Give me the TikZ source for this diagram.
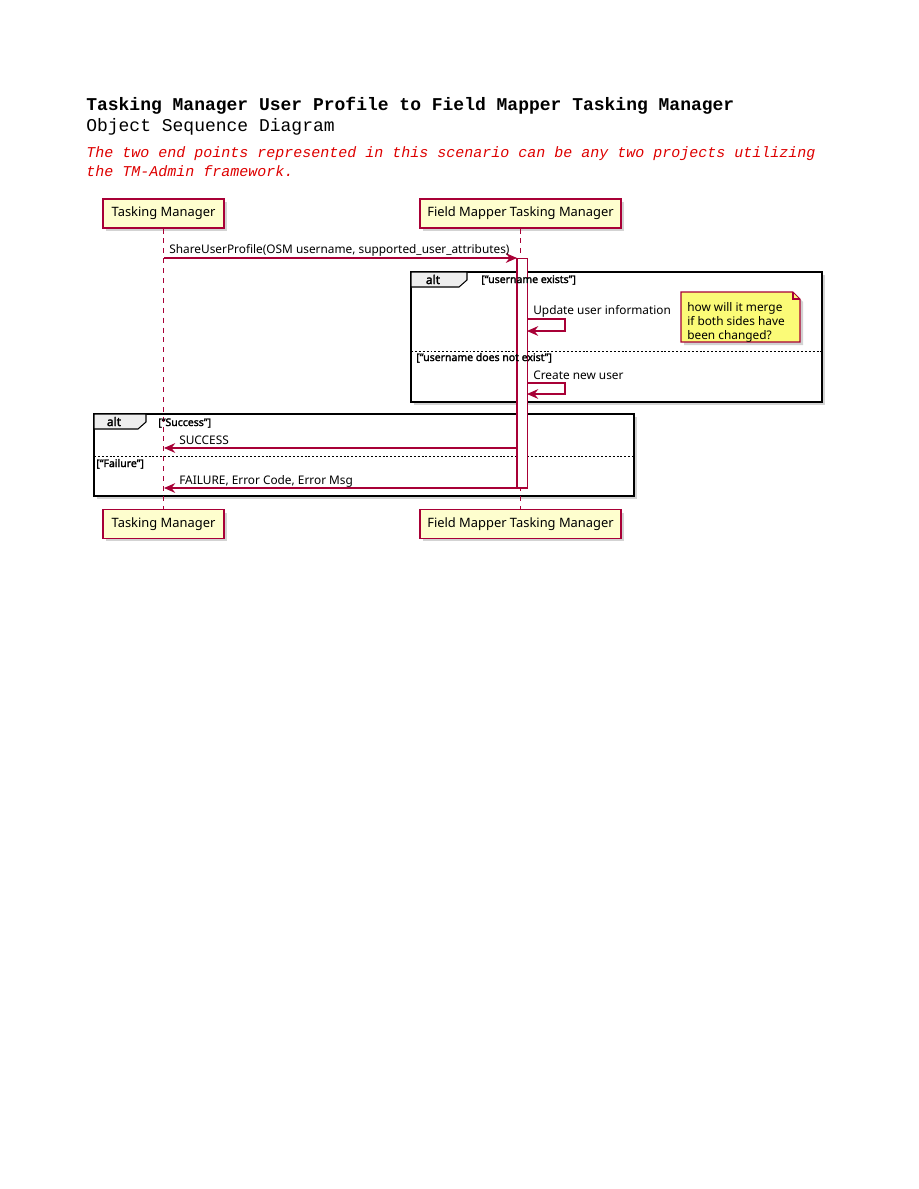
\documentclass[tikz,border=0pt]{standalone}
\usepackage{fontspec}
\setmainfont{Noto Sans}[AutoFakeBold=2.2]
\setmonofont{Liberation Mono}
\usepackage{xcolor}
\usetikzlibrary{arrows.meta}
\usetikzlibrary{shadows}
\usetikzlibrary{positioning}

\definecolor{seqline}{HTML}{A80036}
\definecolor{partfill}{HTML}{FEFECE}
\definecolor{notefill}{HTML}{FBFB77}
\definecolor{tabfill}{HTML}{EEEEEE}
\definecolor{commentred}{HTML}{DD0000}

\tikzset{
  participant/.style={draw=seqline, fill=partfill, line width=0.8pt, minimum height=19.3pt,
    inner sep=0pt, font=\fontsize{8.6}{10}\selectfont,
    drop shadow={shadow xshift=2pt, shadow yshift=-2pt, opacity=0.35}},
  lifeline/.style={draw=seqline, line width=0.6pt, dash pattern=on 3.3pt off 3.3pt},
  activation/.style={draw=seqline, fill=white, line width=0.7pt, minimum width=6.7pt, inner sep=0pt},
  msg/.style={draw=seqline, line width=0.7pt, -{Stealth[length=7.5pt, width=6.5pt, inset=2.5pt]}},
  msgtext/.style={anchor=base west, inner sep=0pt, font=\fontsize{7.9}{10}\selectfont},
  frame/.style={draw=black, line width=1.4pt,
    drop shadow={shadow xshift=2pt, shadow yshift=-2pt, opacity=0.35}},
  divider/.style={draw=black, line width=0.5pt, dash pattern=on 1.3pt off 1.3pt},
  guard/.style={anchor=base west, inner sep=0pt, font=\fontsize{7}{8}\selectfont\bfseries},
  altlabel/.style={anchor=base, inner sep=0pt, font=\fontsize{8}{10}\selectfont\bfseries},
  notetext/.style={anchor=north west, inner sep=0pt, align=left, font=\fontsize{7.9}{9.3}\selectfont}
}

\begin{document}
\begin{tikzpicture}[x=0.6667pt, y=-0.6667pt]
  \useasboundingbox (0,0) rectangle (919,1189);%

  % Heading
  \node [anchor=base west, inner sep=0pt, font=\ttfamily\bfseries\fontsize{12}{14}\selectfont] (title) at (86,110) {Tasking Manager User Profile to Field Mapper Tasking Manager};%
  \node [anchor=base west, inner sep=0pt, font=\ttfamily\fontsize{12}{14}\selectfont] (subtitle) at (86,131) {Object Sequence Diagram};%
  \node [anchor=base west, inner sep=0pt, text=commentred, font=\ttfamily\itshape\fontsize{10}{12}\selectfont] (comment1) at (86,157) {The two end points represented in this scenario can be any two projects utilizing};%
  \node [anchor=base west, inner sep=0pt, text=commentred, font=\ttfamily\itshape\fontsize{10}{12}\selectfont] (comment2) at (86,176) {the TM-Admin framework.};%

  % Frame alt 1
  \draw [frame, fill=white] (411,272) rectangle (822,402);%
  \draw [black, line width=0.7pt, fill=tabfill] (411,272) -- (467,272) -- (467,280) -- (459,287) -- (411,287) -- cycle;%
  \draw [divider] (411,351) -- (822,351);%

  % Frame alt 2
  \draw [frame, fill=white] (94,414) rectangle (634,496);%
  \draw [black, line width=0.7pt, fill=tabfill] (94,414) -- (146,414) -- (146,422) -- (138,429) -- (94,429) -- cycle;%
  \draw [divider] (94,456) -- (634,456);%

  % Participants
  \node [participant, minimum width=80.7pt] (tmtop) at (163.5,213.5) {Tasking Manager};%
  \node [participant, minimum width=134pt] (fmtop) at (520.5,213.5) {Field Mapper Tasking Manager};%
  \node [participant, minimum width=80.7pt] (tmbot) at (163.5,524) {Tasking Manager};%
  \node [participant, minimum width=134pt] (fmbot) at (520.5,524) {Field Mapper Tasking Manager};%

  % Lifelines
  \draw [lifeline] (tmtop.south) -- (tmbot.north);%
  \draw [lifeline] (fmtop.south) -- (fmbot.north);%

  % Activation of Field Mapper Tasking Manager
  \node [activation, minimum height=153.3pt] (fmact) at (522,373) {};%

  % Frame labels and guards
  \node [altlabel] (alta) at (433,284) {alt};%
  \node [guard] (guarda) at (481,283) {[“username exists”]};%
  \node [guard] (guardb) at (416,361) {[“username does not exist”]};%
  \node [altlabel] (altb) at (114,426) {alt};%
  \node [guard] (guardc) at (158,426) {[“Success”]};%
  \node [guard] (guardd) at (96,467) {[“Failure”]};%

  % Message ShareUserProfile
  \coordinate (shareA) at (164,258);%
  \coordinate (shareB) at (517,258);%
  \draw [msg] (shareA) -- (shareB);%
  \node [msgtext] (sharetext) at (169,253) {ShareUserProfile(OSM username, supported\_user\_attributes)};%

  % Self message Update user information
  \coordinate (updA) at (527,319);%
  \coordinate (updB) at (527,331);%
  \draw [msg] (updA) -- (565,319) -- (565,331) -- (updB);%
  \node [msgtext] (updtext) at (533,314) {Update user information};%

  % Note
  \draw [seqline, line width=0.7pt, fill=notefill, drop shadow={shadow xshift=2pt, shadow yshift=-2pt, opacity=0.35}]
    (681,292) -- (793,292) -- (800,299) -- (800,342) -- (681,342) -- cycle;%
  \draw [seqline, line width=0.7pt] (793,292) -- (793,299) -- (800,299);%
  \node [notetext] (note) at (687,302) {how will it merge\\if both sides have\\been changed?};%

  % Self message Create new user
  \coordinate (newA) at (527,383);%
  \coordinate (newB) at (527,394);%
  \draw [msg] (newA) -- (565,383) -- (565,394) -- (newB);%
  \node [msgtext] (newtext) at (533,379) {Create new user};%

  % Reply SUCCESS
  \coordinate (succA) at (517,448);%
  \coordinate (succB) at (164,448);%
  \draw [msg] (succA) -- (succB);%
  \node [msgtext] (succtext) at (179,444) {SUCCESS};%

  % Reply FAILURE
  \coordinate (failA) at (517,488);%
  \coordinate (failB) at (164,488);%
  \draw [msg] (failA) -- (failB);%
  \node [msgtext] (failtext) at (179,484) {FAILURE, Error Code, Error Msg};%
\end{tikzpicture}
\end{document}
